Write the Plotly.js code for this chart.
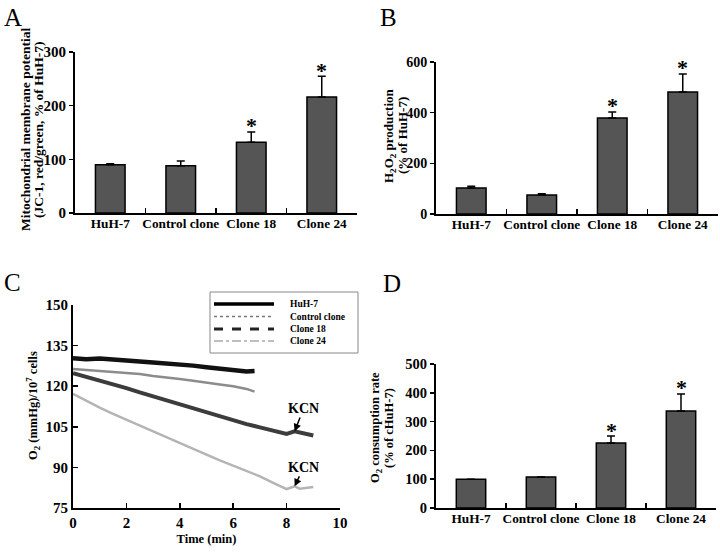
<!DOCTYPE html>
<html>
<head>
<meta charset="utf-8">
<script src="https://cdn.plot.ly/plotly-3.0.1.min.js"></script>
<style>html,body{margin:0;padding:0;background:#fff}</style>
</head>
<body>
<div id="chart" style="width:720px;height:554px"></div>
<script>
// ---- data ----
const categories = ["HuH-7", "Control clone", "Clone 18", "Clone 24"];
const significant = [false, false, true, true];

const mmpValues = [90, 88, 132, 216];
const mmpErrors = [2, 9, 19, 39];

const h2o2Values = [103, 75, 379, 482];
const h2o2Errors = [7, 5, 24, 71];

const o2RateValues = [100, 108, 226, 337];
const o2RateErrors = [0, 0, 24, 59];

const seriesNames = ["HuH-7", "Control clone", "Clone 18", "Clone 24"];

const timeShort = [0, 0.5, 1, 1.5, 2, 2.5, 3, 3.5, 4, 4.5, 5, 5.5, 6, 6.5, 6.8];
const huh7O2 = [130.3, 130.0, 130.2, 129.7, 129.3, 129.1, 128.8, 128.5, 128.1, 127.6, 127.0, 126.4, 125.8, 125.4, 125.6];
const controlO2 = [126.4, 126.0, 125.8, 125.4, 125.0, 124.5, 123.8, 123.3, 122.7, 122.0, 121.2, 120.6, 120.0, 119.0, 118.0];

const timeLong = [0, 0.5, 1, 1.5, 2, 2.5, 3, 3.5, 4, 4.5, 5, 5.5, 6, 6.5, 7, 7.5, 8, 8.3, 8.5, 9];
const clone18O2 = [124.8, 123.5, 122.1, 120.7, 119.3, 117.7, 116.2, 114.8, 113.4, 111.8, 110.3, 108.8, 107.3, 106.0, 104.8, 103.6, 102.4, 103.3, 102.9, 101.8];
const clone24O2 = [117.2, 114.6, 112.1, 109.8, 107.6, 105.4, 103.3, 101.1, 99.0, 96.8, 94.7, 92.6, 90.6, 88.6, 86.7, 84.3, 82.0, 83.0, 82.1, 82.8];

const kcnTime = [8.3, 8.3];
const kcnO2 = [103.3, 83.0];

// y-axis title lines per panel (A, B, C, D)
const yTitleLines = [
  ["Mitochondrial membrane potential", "(JC-1, red/green, % of HuH-7)"],
  ["H<sub>2</sub>O<sub>2</sub> production", "(% of HuH-7)"],
  ["O<sub>2</sub> (mmHg)/10<sup>7</sup> cells"],
  ["O<sub>2</sub> consumption rate", "(% of cHuH-7)"]
];

// ---- styling ----
const FONT = "Liberation Serif, Times New Roman, serif";
const W = 720, H = 554;
const px = v => v / W;
const py = v => 1 - v / H;

function barTrace(vals, errs, xa, ya) {
  return {
    type: "bar", x: categories, y: vals, xaxis: xa, yaxis: ya, width: 0.42,
    marker: {color: "#555555", line: {color: "#000", width: 1.5}},
    error_y: {type: "data", array: errs, arrayminus: errs.map(() => 0), symmetric: false,
              color: "#000", thickness: 1.5, width: 4, visible: true},
    showlegend: false, hoverinfo: "skip"
  };
}

function starAnnotations(vals, errs, xr, yr) {
  const out = [];
  categories.forEach((c, i) => {
    if (significant[i]) out.push({
      x: c, y: vals[i] + errs[i], xref: xr, yref: yr, text: "*", showarrow: false,
      yanchor: "middle", yshift: 6, font: {family: FONT, size: 22, weight: "bold", color: "#000"}
    });
  });
  return out;
}

const tf = s => ({family: FONT, size: s, weight: "bold", color: "#000"});
const catFont = tf(13.3);

function catAxis(domain, anchor) {
  return {domain: domain, anchor: anchor, type: "category", showline: true, linecolor: "#000", linewidth: 2,
          ticks: "inside", ticklen: 5, tickwidth: 1.5, tickcolor: "#000", tickson: "boundaries",
          tickangle: 0, ticklabelstandoff: -3,
          tickfont: catFont, showgrid: false, zeroline: false, fixedrange: true};
}
function valAxis(domain, anchor, range, dtick, fs) {
  return {domain: domain, anchor: anchor, range: range, dtick: dtick, showline: true, linecolor: "#000", linewidth: 2,
          ticks: "outside", ticklen: 4, tickwidth: 1.5, tickcolor: "#000", tickfont: tf(fs),
          showgrid: false, zeroline: false, fixedrange: true};
}

const lineStyles = [
  {color: "#111", width: 4.5},
  {color: "#8c8c8c", width: 2.5},
  {color: "#3c3c3c", width: 4},
  {color: "#b4b4b4", width: 2.5}
];
const legendStyles = [
  {color: "#000", width: 3.5, dash: "solid"},
  {color: "#777", width: 1.5, dash: "dot"},
  {color: "#222", width: 3, dash: "dash"},
  {color: "#aaa", width: 1.5, dash: "dashdot"}
];
const seriesT = [timeShort, timeShort, timeLong, timeLong];
const seriesO2 = [huh7O2, controlO2, clone18O2, clone24O2];

const traces = [
  barTrace(mmpValues, mmpErrors, "x", "y"),
  barTrace(h2o2Values, h2o2Errors, "x2", "y2"),
  barTrace(o2RateValues, o2RateErrors, "x4", "y4"),
  ...seriesNames.map((n, i) => ({
    type: "scatter", mode: "lines", name: n, x: seriesT[i], y: seriesO2[i], xaxis: "x3", yaxis: "y3",
    line: lineStyles[i], showlegend: false, hoverinfo: "skip"
  }))
];

// custom compact legend (box, samples, labels) in panel C
const legBox = {x0: 210, x1: 358, y0: 292, y1: 353};
const legRowY = [304, 316.5, 329, 341];
const shapes = [
  {type: "rect", xref: "paper", yref: "paper", x0: px(legBox.x0), x1: px(legBox.x1), y0: py(legBox.y1), y1: py(legBox.y0),
   line: {color: "#888", width: 1}, fillcolor: "rgba(255,255,255,0)"},
  ...seriesNames.map((n, i) => ({
    type: "line", xref: "paper", yref: "paper", x0: px(214), x1: px(274), y0: py(legRowY[i]), y1: py(legRowY[i]),
    line: legendStyles[i]
  }))
];

// y-title line centres: [x of each line], y centre, font size
const yTitlePos = [
  {xs: [25, 38], y: 130, fs: 13.5},
  {xs: [390, 403], y: 136, fs: 13},
  {xs: [33], y: 406, fs: 12.5},
  {xs: [376, 389], y: 428, fs: 12.5}
];

const yTitleAnnots = [];
yTitleLines.forEach((lines, i) => {
  lines.forEach((t, j) => {
    yTitleAnnots.push({
      x: px(yTitlePos[i].xs[j]), y: py(yTitlePos[i].y), xref: "paper", yref: "paper", text: t, showarrow: false,
      textangle: -90, xanchor: "center", yanchor: "middle", font: tf(yTitlePos[i].fs)
    });
  });
});

const annotations = [
  ...starAnnotations(mmpValues, mmpErrors, "x", "y"),
  ...starAnnotations(h2o2Values, h2o2Errors, "x2", "y2"),
  ...starAnnotations(o2RateValues, o2RateErrors, "x4", "y4"),
  ...yTitleAnnots,
  ...seriesNames.map((n, i) => ({
    x: px(288), y: py(legRowY[i]), xref: "paper", yref: "paper", text: n, showarrow: false,
    xanchor: "left", yanchor: "middle", font: tf(9.5)
  })),
  {x: kcnTime[0], y: kcnO2[0], xref: "x3", yref: "y3", text: "KCN", showarrow: true, arrowhead: 2,
   arrowsize: 1, arrowwidth: 1.5, arrowcolor: "#000", ax: 9, ay: -23, font: tf(14)},
  {x: kcnTime[1], y: kcnO2[1], xref: "x3", yref: "y3", text: "KCN", showarrow: true, arrowhead: 2,
   arrowsize: 1, arrowwidth: 1.5, arrowcolor: "#000", ax: 9, ay: -19, font: tf(14)},
  {x: px(2), y: py(2), xref: "paper", yref: "paper", text: "A", showarrow: false, xanchor: "left", yanchor: "top",
   font: {family: FONT, size: 25, color: "#000"}},
  {x: px(378), y: py(2), xref: "paper", yref: "paper", text: "B", showarrow: false, xanchor: "left", yanchor: "top",
   font: {family: FONT, size: 25, color: "#000"}},
  {x: px(2), y: py(267), xref: "paper", yref: "paper", text: "C", showarrow: false, xanchor: "left", yanchor: "top",
   font: {family: FONT, size: 25, color: "#000"}},
  {x: px(381), y: py(268), xref: "paper", yref: "paper", text: "D", showarrow: false, xanchor: "left", yanchor: "top",
   font: {family: FONT, size: 25, color: "#000"}}
];

const layout = {
  width: W, height: H, margin: {l: 0, r: 0, t: 0, b: 0},
  paper_bgcolor: "#fff", plot_bgcolor: "#fff",
  font: {family: FONT, color: "#000"},
  showlegend: false,
  xaxis: catAxis([px(75), px(357)], "y"),
  yaxis: valAxis([1 - 213 / H, 1 - 52 / H], "x", [0, 300], 100, 15),
  xaxis2: catAxis([px(436), px(718)], "y2"),
  yaxis2: valAxis([1 - 214 / H, 1 - 62 / H], "x2", [0, 600], 200, 14),
  xaxis3: {domain: [px(73), px(340)], anchor: "y3", range: [0, 10], dtick: 2, showline: true, linecolor: "#000",
           linewidth: 2, ticks: "inside", ticklen: 5, tickwidth: 1.5, tickcolor: "#000", tickfont: tf(15),
           showgrid: false, zeroline: false, fixedrange: true,
           title: {text: "Time (min)", font: tf(12.5), standoff: 4}},
  yaxis3: {domain: [1 - 508 / H, 1 - 305 / H], anchor: "x3", range: [75, 150], dtick: 15, showline: true,
           linecolor: "#000", linewidth: 2, ticks: "inside", ticklen: 5, tickwidth: 1.5, tickcolor: "#000",
           tickfont: tf(15), showgrid: false, zeroline: false, fixedrange: true},
  xaxis4: catAxis([px(436), px(716)], "y4"),
  yaxis4: valAxis([1 - 508 / H, 1 - 364 / H], "x4", [0, 500], 100, 14.5),
  shapes: shapes,
  annotations: annotations
};

Plotly.newPlot("chart", traces, layout, {staticPlot: true, displayModeBar: false});
</script>
</body>
</html>
